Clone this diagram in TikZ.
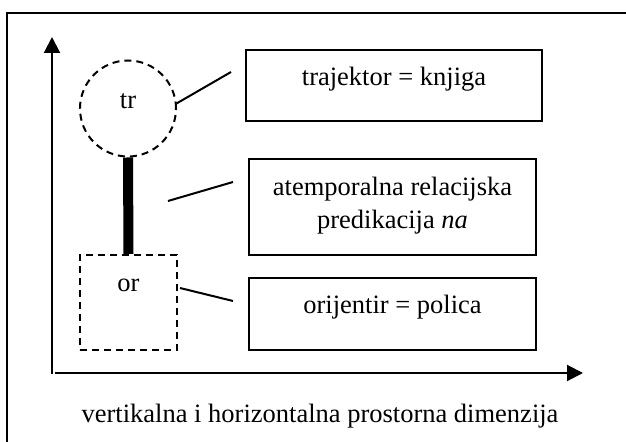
\documentclass[tikz,border=0pt]{standalone}
\usepackage{fontspec}
\setmainfont{Liberation Serif}
\usetikzlibrary{arrows.meta}
\begin{document}
\begin{tikzpicture}
[x=0.5pt,y=-0.5pt,
  boxdecorate/.style={shape=rectangle,draw,line width=1pt,inner sep=0pt,%
    align=center,anchor=north,minimum width=143.5pt},%
  dashdecorate/.style={draw,line width=1pt,dash pattern=on 3.5pt off 2.5pt,inner sep=0pt},%
  linedecorate/.style={-,line width=1pt},%
  axisdecorate/.style={-{Triangle[length=8pt,width=8pt]},line width=1pt},%
  font=\fontsize{13.25}{16.5}\selectfont]
\useasboundingbox (0,0) rectangle (626,442);
%% frame and axes
\draw[line width=1pt] (7,442) -- (7,13) -- (626,13);
\draw[axisdecorate] (52,374) -- (52,37);
\draw[axisdecorate] (55,373) -- (583,373);
%% trajector and landmark
\node (tr) at (128,108.5) [dashdecorate,shape=circle,minimum size=48pt,%
  text height=6pt,text depth=6pt] {tr};
\node (or) at (128.5,254) [dashdecorate,shape=rectangle,anchor=north,%
  minimum width=48.5pt,text height=18.5pt,text depth=29pt] {or};
\draw[line width=5pt] (tr.south) -- (or.north);
%% boxes
\node (traj) at (394,49) [boxdecorate,minimum width=148pt,%
  text height=18pt,text depth=17.5pt] {trajektor = knjiga};
\node (rel) at (392.5,158) [boxdecorate,text height=35pt,text depth=13pt]
  {atemporalna relacijska\\predikacija \textit{na}};
\node (orient) at (392.5,277) [boxdecorate,text height=18pt,text depth=18pt]
  {orijentir = polica};
\node (dim) at (320,422.5) [anchor=base]
  {vertikalna i horizontalna prostorna dimenzija};
%% lines
\coordinate (trend) at (231,72);
\coordinate (relstart) at (168,201);
\coordinate (relend) at (233,182);
\coordinate (orstart) at ([xshift=1pt,yshift=7.25pt]or.east);
\coordinate (orend) at (233,301);
\path
\foreach \startnode/\endnode in {tr.6/trend, relstart/relend, orstart/orend} {
  (\startnode) edge[linedecorate] (\endnode)
};
\end{tikzpicture}
\end{document}
